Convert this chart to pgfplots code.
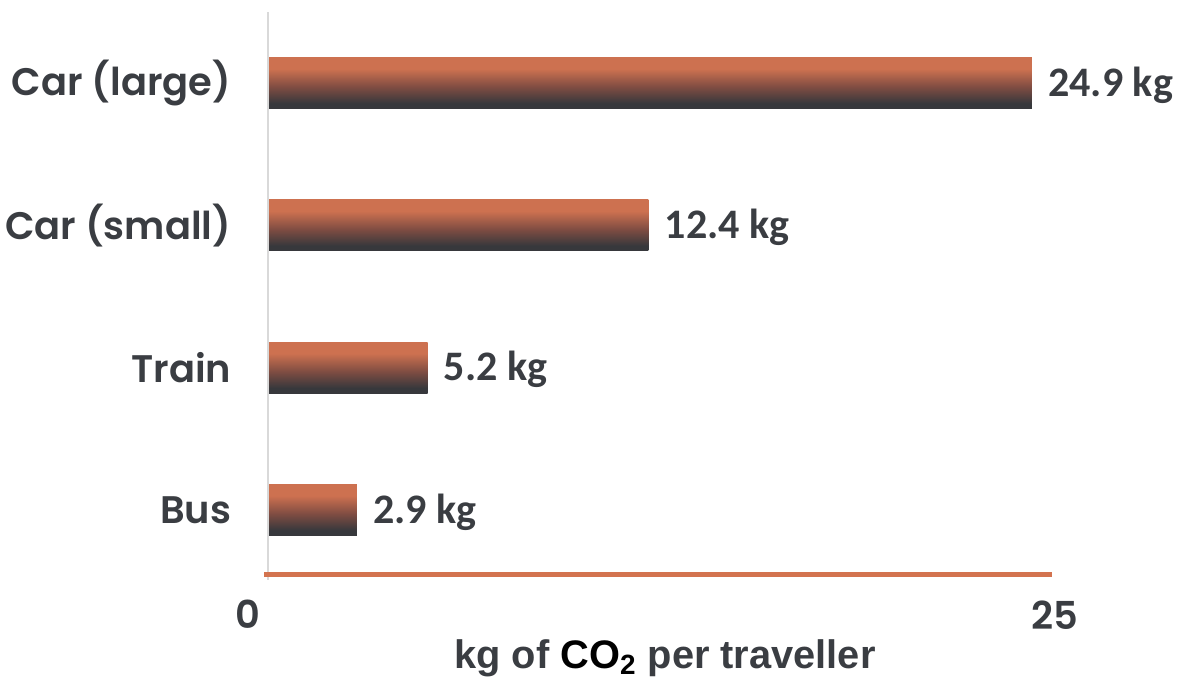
\documentclass[border=0pt]{standalone}
\usepackage{pgfplots}
\pgfplotsset{compat=1.18}
\usepackage{fontspec}
\setmainfont{Liberation Sans}
\newfontfamily\catfont{Poppins}[UprightFont=* SemiBold]
\newfontfamily\valfont{Carlito}
\definecolor{barorange}{HTML}{CD7150}
\definecolor{lineorange}{HTML}{D3734F}
\definecolor{bardark}{HTML}{37383C}
\definecolor{barmid}{HTML}{7E4C42}
\definecolor{txt}{HTML}{3A3D42}
\definecolor{vline}{HTML}{D9D9D9}
\pgfdeclareverticalshading{barshade}{100bp}{color(0bp)=(bardark); color(30bp)=(bardark); color(46bp)=(barmid); color(64bp)=(barorange); color(100bp)=(barorange)}
\pgfplotsset{barsty/.style={draw=none, shading=barshade}}
\begin{document}
\begin{tikzpicture}
\begin{axis}[
  scale only axis,
  width=404.2pt, height=284.6pt,
  xmin=-0.7, xmax=25.65,
  ymin=-0.45, ymax=3.55,
  clip=false,
  axis x line=bottom, axis y line=left,
  axis line style={draw=none},
  major tick length=0pt,
  xtick={-0.65,25.65},
  xticklabels={0,25},
  ytick={0,1,2,3},
  yticklabels={Bus,Train,Car (small),Car (large)},
  yticklabel style={font=\catfont\fontsize{19.2pt}{24pt}\selectfont, color=txt, anchor=east, inner sep=0pt, xshift=-7.5pt},
  xticklabel style={font=\catfont\fontsize{19.2pt}{24pt}\selectfont, color=txt, anchor=north, inner sep=0pt, yshift=-13pt},
  /pgf/number format/assume math mode=true,
  xbar,
  bar width=0.358,
  bar shift=0pt,
  nodes near coords={\pgfmathprintnumber[fixed,fixed zerofill,precision=1]{\pgfplotspointmeta} kg},
  every node near coord/.append style={font=\valfont\bfseries\fontsize{21pt}{24pt}\selectfont, color=txt, anchor=base west, inner sep=0pt, xshift=8pt, yshift=-6.5pt},
]
\addplot[barsty] coordinates {(2.9,0)};
\addplot[barsty] coordinates {(5.2,1)};
\addplot[barsty] coordinates {(12.4,2)};
\addplot[barsty] coordinates {(24.9,3)};
\draw[vline, line width=1pt] (axis cs:0,-0.49) -- (axis cs:0,3.5);
\draw[lineorange, line width=2.5pt] (axis cs:-0.13,-0.45) -- (axis cs:25.55,-0.45);
\node[color=txt, font=\bfseries\fontsize{19.9pt}{24pt}\selectfont, anchor=center] at (axis cs:12.94,-1.04) {kg of \textcolor{black}{CO\textsubscript{2}} per traveller};
\coordinate (bl) at (axis cs:-8.735,-1.2017);
\coordinate (tr) at (axis cs:29.856,3.584);
\end{axis}
\pgfresetboundingbox
\path[use as bounding box] (bl) rectangle (tr);
\end{tikzpicture}
\end{document}
